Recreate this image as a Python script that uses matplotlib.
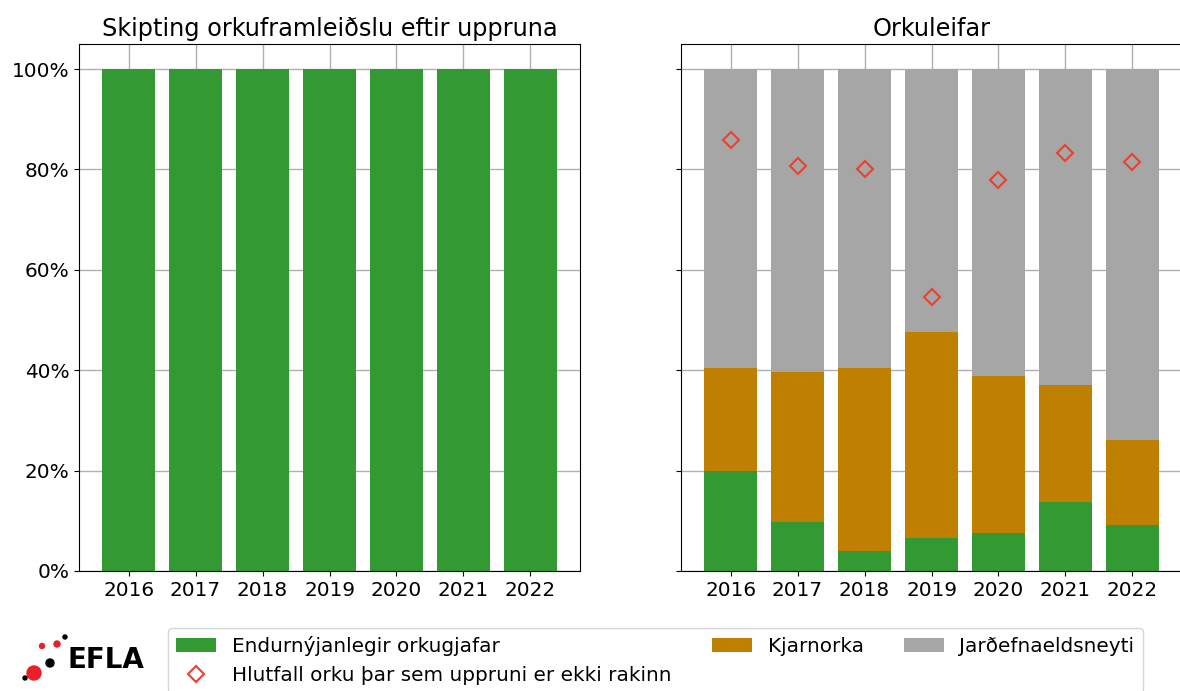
import numpy as np
import matplotlib
matplotlib.use("Agg")
import matplotlib.pyplot as plt
from matplotlib.patches import Circle

# data
years = ["2016", "2017", "2018", "2019", "2020", "2021", "2022"]
left_renewable = [100, 100, 100, 100, 100, 100, 100]
renewable = [20.0, 9.8, 4.0, 6.5, 7.5, 13.7, 9.1]
nuclear = [20.5, 29.9, 36.4, 41.2, 31.4, 23.3, 17.1]
fossil = [59.5, 60.3, 59.6, 52.3, 61.1, 63.0, 73.8]
untracked = [85.8, 80.7, 80.0, 54.5, 78.0, 83.3, 81.5]

GREEN = "#339933"
ORANGE = "#bf7f00"
GREY = "#a6a6a6"
RED = "#e8412e"

plt.rcParams["font.size"] = 14.4
plt.rcParams["axes.axisbelow"] = True

fig = plt.figure(figsize=(11.8, 6.91), dpi=100)
ax1 = fig.add_axes([79 / 1180, 1 - 571 / 691, 501 / 1180, 527 / 691])
ax2 = fig.add_axes([681 / 1180, 1 - 571 / 691, 501 / 1180, 527 / 691], sharey=ax1)

x = np.arange(len(years))

ax1.bar(x, left_renewable, width=0.8, color=GREEN)
ax1.set_title("Skipting orkuframleiðslu eftir uppruna")

bottom2 = np.array(renewable) + np.array(nuclear)
h_ren = ax2.bar(x, renewable, width=0.8, color=GREEN)
h_nuc = ax2.bar(x, nuclear, width=0.8, bottom=renewable, color=ORANGE)
h_fos = ax2.bar(x, fossil, width=0.8, bottom=bottom2, color=GREY)
h_unt, = ax2.plot(x, untracked, ls="none", marker="D", ms=8, mfc="none",
                  mec=RED, mew=1.5)
ax2.set_title("Orkuleifar")

for ax in (ax1, ax2):
    ax.set_xticks(x)
    ax.set_xticklabels(years)
    ax.grid(True, color="#b0b0b0", lw=1)
    for s in ax.spines.values():
        s.set_color("black")
ax1.set_ylim(0, 105)
ax1.set_yticks([0, 20, 40, 60, 80, 100])
ax1.set_yticklabels(["0%", "20%", "40%", "60%", "80%", "100%"])
ax2.tick_params(axis="y", labelleft=False)

fig.legend([h_ren, h_unt, h_nuc, h_fos],
           ["Endurnýjanlegir orkugjafar",
            "Hlutfall orku þar sem uppruni er ekki rakinn",
            "Kjarnorka", "Jarðefnaeldsneyti"],
           ncol=3, loc="upper left", bbox_to_anchor=(168 / 1180, 1 - 628 / 691),
           borderaxespad=0)

# EFLA logo, bottom left (axes in pixel units so the dots stay round)
lax = fig.add_axes([0, 0, 160 / 1180, 70 / 691])
lax.set_xlim(0, 160)
lax.set_ylim(691, 621)
lax.axis("off")
dots = [(34, 673, 7, "#e8202a"), (50, 663, 4, "black"), (42, 646, 2.5, "#e8202a"),
        (57, 644, 3, "#e8202a"), (65, 637, 2, "black"), (25, 678, 2, "black")]
for px, py, r, c in dots:
    lax.add_patch(Circle((px, py), r, color=c))
lax.text(68, 660, "EFLA", fontsize=20, fontweight="bold", va="center", ha="left")

fig.savefig("out.png", dpi=100)
